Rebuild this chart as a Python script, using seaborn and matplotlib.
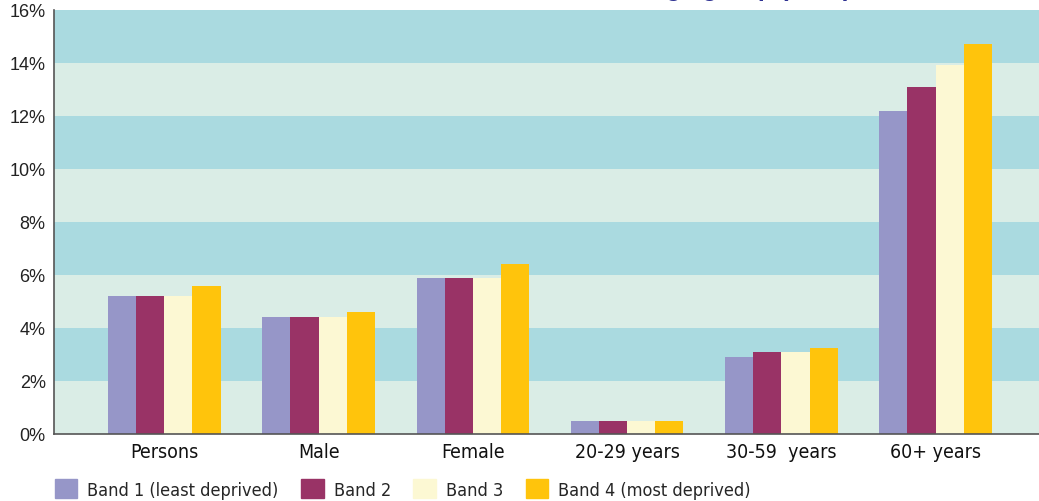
import matplotlib
matplotlib.use("Agg")
import matplotlib.pyplot as plt
import pandas as pd
import seaborn as sns

# data (percent)
groups = ["Persons", "Male", "Female", "20-29 years", "30-59  years", "60+ years"]
bands = ["Band 1 (least deprived)", "Band 2", "Band 3", "Band 4 (most deprived)"]
band1 = [5.2, 4.4, 5.9, 0.5, 2.9, 12.2]
band2 = [5.2, 4.4, 5.9, 0.5, 3.1, 13.1]
band3 = [5.2, 4.4, 5.9, 0.5, 3.1, 13.9]
band4 = [5.6, 4.6, 6.4, 0.5, 3.25, 14.7]
colors = ["#9696C8", "#993366", "#FCF8D3", "#FFC40C"]
yticks = [0, 2, 4, 6, 8, 10, 12, 14, 16]

rows = []
for band, vals in zip(bands, [band1, band2, band3, band4]):
    for g, v in zip(groups, vals):
        rows.append({"group": g, "band": band, "value": v})
df = pd.DataFrame(rows)

sns.set_style("white")
plt.rcParams["font.family"] = ["Liberation Sans", "DejaVu Sans"]
narrow = {"family": "DejaVu Sans", "stretch": "condensed", "size": 13}
narrow_x = dict(narrow, size=14)

fig = plt.figure(figsize=(10.39, 5.02), dpi=100)
ax = fig.add_axes([0.052, 0.1335, 0.948, 0.845])

# alternating horizontal bands behind the bars
for i in range(len(yticks) - 1):
    c = "#DAEDE6" if i % 2 == 0 else "#AADAE0"
    ax.axhspan(yticks[i], yticks[i + 1], color=c, lw=0, zorder=0)

sns.barplot(data=df, x="group", y="value", hue="band", palette=colors,
            width=0.73, saturation=1, linewidth=0, ax=ax, zorder=2, legend=False)

ax.set_xlim(-0.715, 5.67)
ax.set_ylim(0, 16)
ax.set_yticks(yticks)
ax.set_yticklabels([f"{t}%" for t in yticks], fontsize=13, color="#222222")
ax.set_xticks(range(len(groups)))
ax.set_xticklabels(groups, fontproperties=narrow_x, color="#111111")
ax.tick_params(axis="x", length=0, pad=6)
ax.tick_params(axis="y", length=0, pad=6)
ax.set_xlabel("")
ax.set_ylabel("")
for s in ["top", "right"]:
    ax.spines[s].set_visible(False)
for s in ["left", "bottom"]:
    ax.spines[s].set_color("#555555")
    ax.spines[s].set_linewidth(1.2)

handles = [plt.Rectangle((0, 0), 1, 1, color=c) for c in colors]
fig.legend(handles, bands, loc="lower left", bbox_to_anchor=(0.037, -0.028),
           ncol=4, frameon=False, handlelength=1.25, handleheight=1.25,
           handletextpad=0.55, columnspacing=1.25, prop=narrow)

# title, clipped at the very top of the image as in the reference
fig.text(0.819, 1.008, "in each age group (2011)", ha="right",
         va="baseline", fontsize=18, fontweight="bold", color="#2E3192")

fig.savefig("out.png", dpi=100)
